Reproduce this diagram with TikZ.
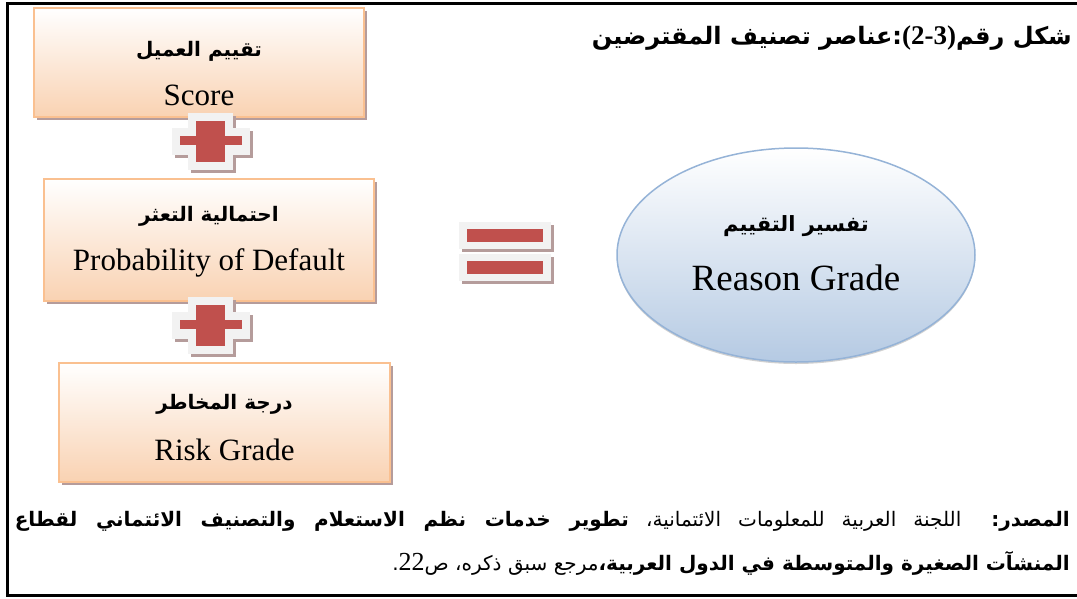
\documentclass[tikz,border=0pt]{standalone}
\usepackage{fontspec}
\setmainfont{Liberation Serif}
\newfontfamily\arabicfont[Script=Arabic]{DejaVu Sans}
\TeXXeTstate=1
\usepackage{tikz}
\usetikzlibrary{shapes.geometric}
\usetikzlibrary{shadows}
\definecolor{boxline}{HTML}{FAC090}
\definecolor{boxfill}{HTML}{F9D2B2}
\definecolor{crossred}{HTML}{C0504D}
\definecolor{crossgray}{HTML}{F2F2F2}
\definecolor{shadowc}{HTML}{B59C9B}
\definecolor{ovalline}{HTML}{95B3D7}
\definecolor{ovalfill}{HTML}{B5CAE3}
% plus sign centred at (#1,#2)
\newcommand{\plussign}[2]{%
\fill[shadowc] (#1-19.5,#2-25.5) rectangle (#1+25.5,#2+31.5);
\fill[shadowc] (#1-36,#2-10.5) rectangle (#1+42,#2+16.5);
\fill[crossgray] (#1-22.5,#2-28.5) rectangle (#1+22.5,#2+28.5);
\fill[crossgray] (#1-39,#2-13.5) rectangle (#1+39,#2+13.5);
\fill[crossred] (#1-14.5,#2-20.5) rectangle (#1+14.5,#2+20.5);
\fill[crossred] (#1-31,#2-5.5) rectangle (#1+31,#2+3.5)}
% one bar of the equals sign, top left at (#1,#2)
\newcommand{\eqbar}[2]{%
\fill[shadowc] (#1+3,#2+3) rectangle (#1+95,#2+30);
\fill[crossgray] (#1,#2) rectangle (#1+92,#2+27);
\fill[crossred] (#1+8,#2+7) rectangle (#1+84,#2+20)}

\begin{document}
\begin{tikzpicture}[
x=1pt,y=-1pt,
PBox/.style={rectangle,draw=boxline,line width=2.5pt,top color=white,bottom color=boxfill,
  drop shadow={shadow xshift=3pt,shadow yshift=-3pt,fill=shadowc,opacity=1},inner sep=0pt},
Oval/.style={ellipse,draw=ovalline,line width=1.5pt,top color=white,bottom color=ovalfill,
  drop shadow={shadow xshift=0pt,shadow yshift=-2pt,fill=gray!60,opacity=.6},inner sep=0pt},
ArText/.style={font=\arabicfont\bfseries\fontsize{20}{24}\selectfont,inner sep=0pt},
EnText/.style={font=\fontsize{31}{36}\selectfont,inner sep=0pt}
]
\useasboundingbox (0,0) rectangle (1077,598);

% frame, open on the right
\draw[line width=3pt] (1077,3) -- (7,3) -- (7,595) -- (1077,595);

% title
\node[anchor=east,inner sep=0pt,font=\arabicfont\bfseries\fontsize{24}{28}\selectfont] (title) at (1072,38)
{\beginR شكل رقم\beginL{\rmfamily\bfseries\fontsize{27}{30}\selectfont(2-3)}\endL:عناصر تصنيف المقترضين\endR};

% the three components
\node[PBox,minimum width=330pt,minimum height=109pt] (score) at (199,62.5) {};
\node[ArText] (scoreAr) at (199,51) {\beginR تقييم العميل\endR};
\node[EnText] (scoreEn) at (199,95.5) {Score};

\node[PBox,minimum width=330pt,minimum height=122pt] (pd) at (209,240) {};
\node[ArText] (pdAr) at (209,216) {\beginR احتمالية التعثر\endR};
\node[EnText] (pdEn) at (209,263) {Probability of Default};

\node[PBox,minimum width=331pt,minimum height=119pt] (risk) at (224.5,422.5) {};
\node[ArText] (riskAr) at (224.5,404) {\beginR درجة المخاطر\endR};
\node[EnText] (riskEn) at (224.5,450) {Risk Grade};

\plussign{210.5}{141.5};
\plussign{210.5}{325};

% equals
\eqbar{459}{222};
\eqbar{459}{254};

% result
\node[Oval,minimum width=358pt,minimum height=214pt] (grade) at (796,255) {};
\node[ArText,font=\arabicfont\bfseries\fontsize{21}{24}\selectfont] (gradeAr) at (796,226) {\beginR تفسير التقييم\endR};
\node[EnText,font=\fontsize{37}{40}\selectfont] (gradeEn) at (796,278) {Reason Grade};

% source
\node[anchor=east,inner sep=0pt,font=\arabicfont\fontsize{20}{24}\selectfont] (src1) at (1070,521)
{\makebox[1055pt][s]{\beginR{\bfseries المصدر:} اللجنة العربية للمعلومات الائتمانية، {\bfseries تطوير خدمات نظم الاستعلام والتصنيف الائتماني لقطاع}\endR}};
\node[anchor=east,inner sep=0pt,font=\arabicfont\fontsize{20}{24}\selectfont] (src2) at (1070,563)
{\beginR{\bfseries المنشآت الصغيرة والمتوسطة في الدول العربية،}مرجع سبق ذكره، ص\beginL{\rmfamily\fontsize{26}{28}\selectfont 22}\endL.\endR};
\end{tikzpicture}
\end{document}
